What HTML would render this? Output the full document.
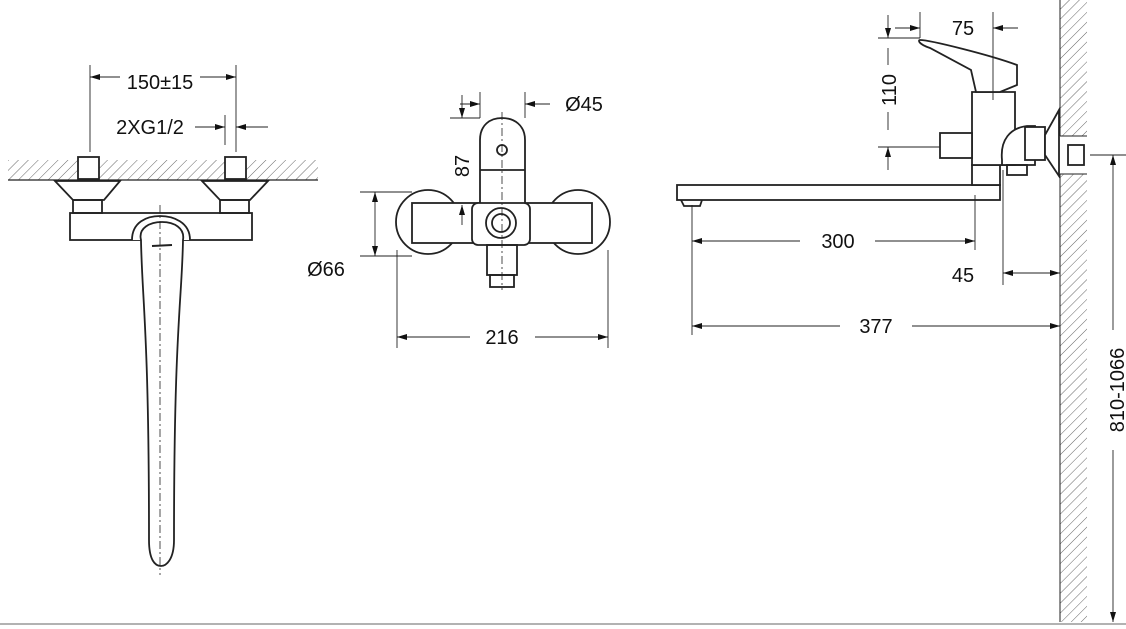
<!DOCTYPE html>
<html><head><meta charset="utf-8"><style>
html,body{margin:0;padding:0;background:#fff}
svg{display:block}
text{font-family:"Liberation Sans",sans-serif;font-size:20px;fill:#111}
</style></head><body>
<svg width="1126" height="629" viewBox="0 0 1126 629" xmlns="http://www.w3.org/2000/svg">
<defs>
<pattern id="h" width="7" height="7" patternUnits="userSpaceOnUse" patternTransform="rotate(45)">
<line x1="0" y1="0" x2="0" y2="7" stroke="#666" stroke-width="1"/></pattern>
<marker id="a" viewBox="0 0 10 6" refX="10" refY="3" markerWidth="10" markerHeight="6" orient="auto-start-reverse" markerUnits="userSpaceOnUse"><path d="M0,0L10,3L0,6z" fill="#111"/></marker>
</defs>
<g fill="none" stroke="#222" stroke-width="1.8">
<!-- LEFT VIEW -->
<rect x="8" y="160" width="310" height="20" fill="url(#h)" stroke="none"/>
<line x1="8" y1="180" x2="318" y2="180" stroke-width="1.2"/>
<rect x="78" y="157" width="21" height="22" fill="#fff"/>
<rect x="225" y="157" width="21" height="22" fill="#fff"/>
<path d="M55,181L120,181L104,200L73,200Z" fill="#fff"/>
<path d="M202,181L268,181L250,200L220,200Z" fill="#fff"/>
<rect x="73" y="200" width="29" height="13"/>
<rect x="220" y="200" width="29" height="13"/>
<rect x="70" y="213" width="182" height="27"/>
<path d="M132,240C132,222 147,216 160,216C173,216 190,222 190,240" fill="#fff"/>
<path d="M141,240C138,228 150,222 162,222C174,222 185,228 183,240C182,300 174,330 174,540C174,560 166,566 161,566C155,566 149,560 149,540C149,330 142,300 141,240Z" fill="#fff"/>
<line x1="152" y1="246" x2="172" y2="245" stroke-width="2"/>
<g stroke-width="0.8" stroke-dasharray="8,3,2,3"><line x1="160" y1="205" x2="160" y2="575"/></g>
<!-- dims left -->
<g stroke-width="0.9">
<line x1="90" y1="65" x2="90" y2="152"/><line x1="236" y1="65" x2="236" y2="152"/>
<line x1="90" y1="77" x2="120" y2="77" marker-start="url(#a)"/>
<line x1="200" y1="77" x2="236" y2="77" marker-end="url(#a)"/>
<line x1="225" y1="115" x2="225" y2="145"/>
<line x1="195" y1="127" x2="225" y2="127" marker-end="url(#a)"/>
<line x1="268" y1="127" x2="236" y2="127" marker-end="url(#a)"/>
</g>
<!-- MIDDLE VIEW -->
<circle cx="428" cy="222" r="32" fill="#fff"/>
<circle cx="578" cy="222" r="32" fill="#fff"/>
<rect x="412" y="203" width="180" height="40" fill="#fff"/>
<path d="M480,205L480,140C480,125 490,118 502,118C514,118 525,125 525,140L525,205" fill="#fff"/>
<line x1="480" y1="170" x2="525" y2="170"/>
<circle cx="502" cy="150" r="5"/>
<rect x="472" y="203" width="58" height="42" rx="6" fill="#fff"/>
<circle cx="501" cy="223" r="15"/>
<circle cx="501" cy="223" r="9"/>
<rect x="487" y="245" width="30" height="30"/>
<rect x="490" y="275" width="24" height="12"/>
<g stroke-width="0.8" stroke-dasharray="8,3,2,3"><line x1="502" y1="112" x2="502" y2="290"/></g>
<g stroke-width="0.9">
<line x1="480" y1="92" x2="480" y2="118"/><line x1="525" y1="92" x2="525" y2="118"/>
<line x1="460" y1="104" x2="480" y2="104" marker-end="url(#a)"/>
<line x1="550" y1="104" x2="525" y2="104" marker-end="url(#a)"/>
<line x1="450" y1="118" x2="480" y2="118"/>
<line x1="462" y1="95" x2="462" y2="118" marker-end="url(#a)"/>
<line x1="462" y1="225" x2="462" y2="205" marker-end="url(#a)"/>
<line x1="360" y1="192" x2="412" y2="192"/><line x1="360" y1="256" x2="412" y2="256"/>
<line x1="375" y1="192" x2="375" y2="256" marker-start="url(#a)" marker-end="url(#a)"/>
<line x1="397" y1="250" x2="397" y2="348"/><line x1="608" y1="250" x2="608" y2="348"/>
<line x1="397" y1="337" x2="470" y2="337" marker-start="url(#a)"/>
<line x1="535" y1="337" x2="608" y2="337" marker-end="url(#a)"/>
</g>
<!-- RIGHT VIEW -->
<rect x="1060" y="0" width="27" height="136" fill="url(#h)" stroke="none"/>
<rect x="1060" y="174" width="27" height="448" fill="url(#h)" stroke="none"/>
<line x1="1060" y1="0" x2="1060" y2="136" stroke-width="1"/>
<line x1="1060" y1="174" x2="1060" y2="622" stroke-width="1"/>
<line x1="1060" y1="136" x2="1087" y2="136" stroke-width="1"/>
<line x1="1060" y1="174" x2="1087" y2="174" stroke-width="1"/>
<rect x="677" y="185" width="323" height="15" fill="#fff"/>
<path d="M681,200L684,206L700,206L702,200" />
<rect x="972" y="165" width="28" height="20" fill="#fff"/>
<path d="M972,165L972,92L1015,92L1015,165Z" fill="#fff"/>
<path d="M920,40C930,40 990,55 1017,65L1017,85L1000,92L976,92L971,70L930,48C918,44 918,40 920,40Z" fill="#fff"/>
<rect x="940" y="133" width="32" height="25" fill="#fff"/>
<path d="M1002,160C1000,140 1010,128 1027,126L1035,126L1035,165L1002,165Z" fill="#fff"/>
<rect x="1007" y="165" width="20" height="10"/>
<rect x="1025" y="127" width="20" height="33" fill="#fff"/>
<path d="M1045,135L1059,110L1059,176L1045,155Z" fill="#fff"/>
<rect x="1068" y="145" width="16" height="20" fill="#fff"/>
<g stroke-width="0.9">
<line x1="878" y1="38" x2="920" y2="38"/>
<line x1="878" y1="147" x2="940" y2="147"/>
<line x1="888" y1="15" x2="888" y2="38" marker-end="url(#a)"/>
<line x1="888" y1="170" x2="888" y2="147" marker-end="url(#a)"/>
<line x1="888" y1="48" x2="888" y2="65"/><line x1="888" y1="112" x2="888" y2="130"/>
<line x1="920" y1="12" x2="920" y2="38"/><line x1="993" y1="12" x2="993" y2="100"/>
<line x1="895" y1="28" x2="920" y2="28" marker-end="url(#a)"/>
<line x1="1018" y1="28" x2="993" y2="28" marker-end="url(#a)"/>
<line x1="692" y1="205" x2="692" y2="335"/>
<line x1="975" y1="195" x2="975" y2="250"/>
<line x1="1003" y1="170" x2="1003" y2="285"/>
<line x1="692" y1="241" x2="800" y2="241" marker-start="url(#a)"/>
<line x1="875" y1="241" x2="975" y2="241" marker-end="url(#a)"/>
<line x1="1003" y1="273" x2="1060" y2="273" marker-start="url(#a)" marker-end="url(#a)"/>
<line x1="692" y1="326" x2="840" y2="326" marker-start="url(#a)"/>
<line x1="912" y1="326" x2="1060" y2="326" marker-end="url(#a)"/>
<line x1="1090" y1="155" x2="1126" y2="155"/>
<line x1="1113" y1="330" x2="1113" y2="155" marker-end="url(#a)"/>
<line x1="1113" y1="450" x2="1113" y2="622" marker-end="url(#a)"/>
</g>
<line x1="0" y1="624" x2="1126" y2="624" stroke="#999" stroke-width="1.5"/>
</g>
<text x="160" y="89" text-anchor="middle">150±15</text>
<text x="150" y="134" text-anchor="middle">2XG1/2</text>
<text x="584" y="111" text-anchor="middle">Ø45</text>
<text transform="translate(469,166) rotate(-90)" text-anchor="middle">87</text>
<text x="326" y="276" text-anchor="middle">Ø66</text>
<text x="502" y="344" text-anchor="middle">216</text>
<text x="963" y="35" text-anchor="middle">75</text>
<text transform="translate(896,90) rotate(-90)" text-anchor="middle">110</text>
<text x="838" y="248" text-anchor="middle">300</text>
<text x="963" y="282" text-anchor="middle">45</text>
<text x="876" y="333" text-anchor="middle">377</text>
<text transform="translate(1124,390) rotate(-90)" text-anchor="middle">810-1066</text>
</svg>
</body></html>
